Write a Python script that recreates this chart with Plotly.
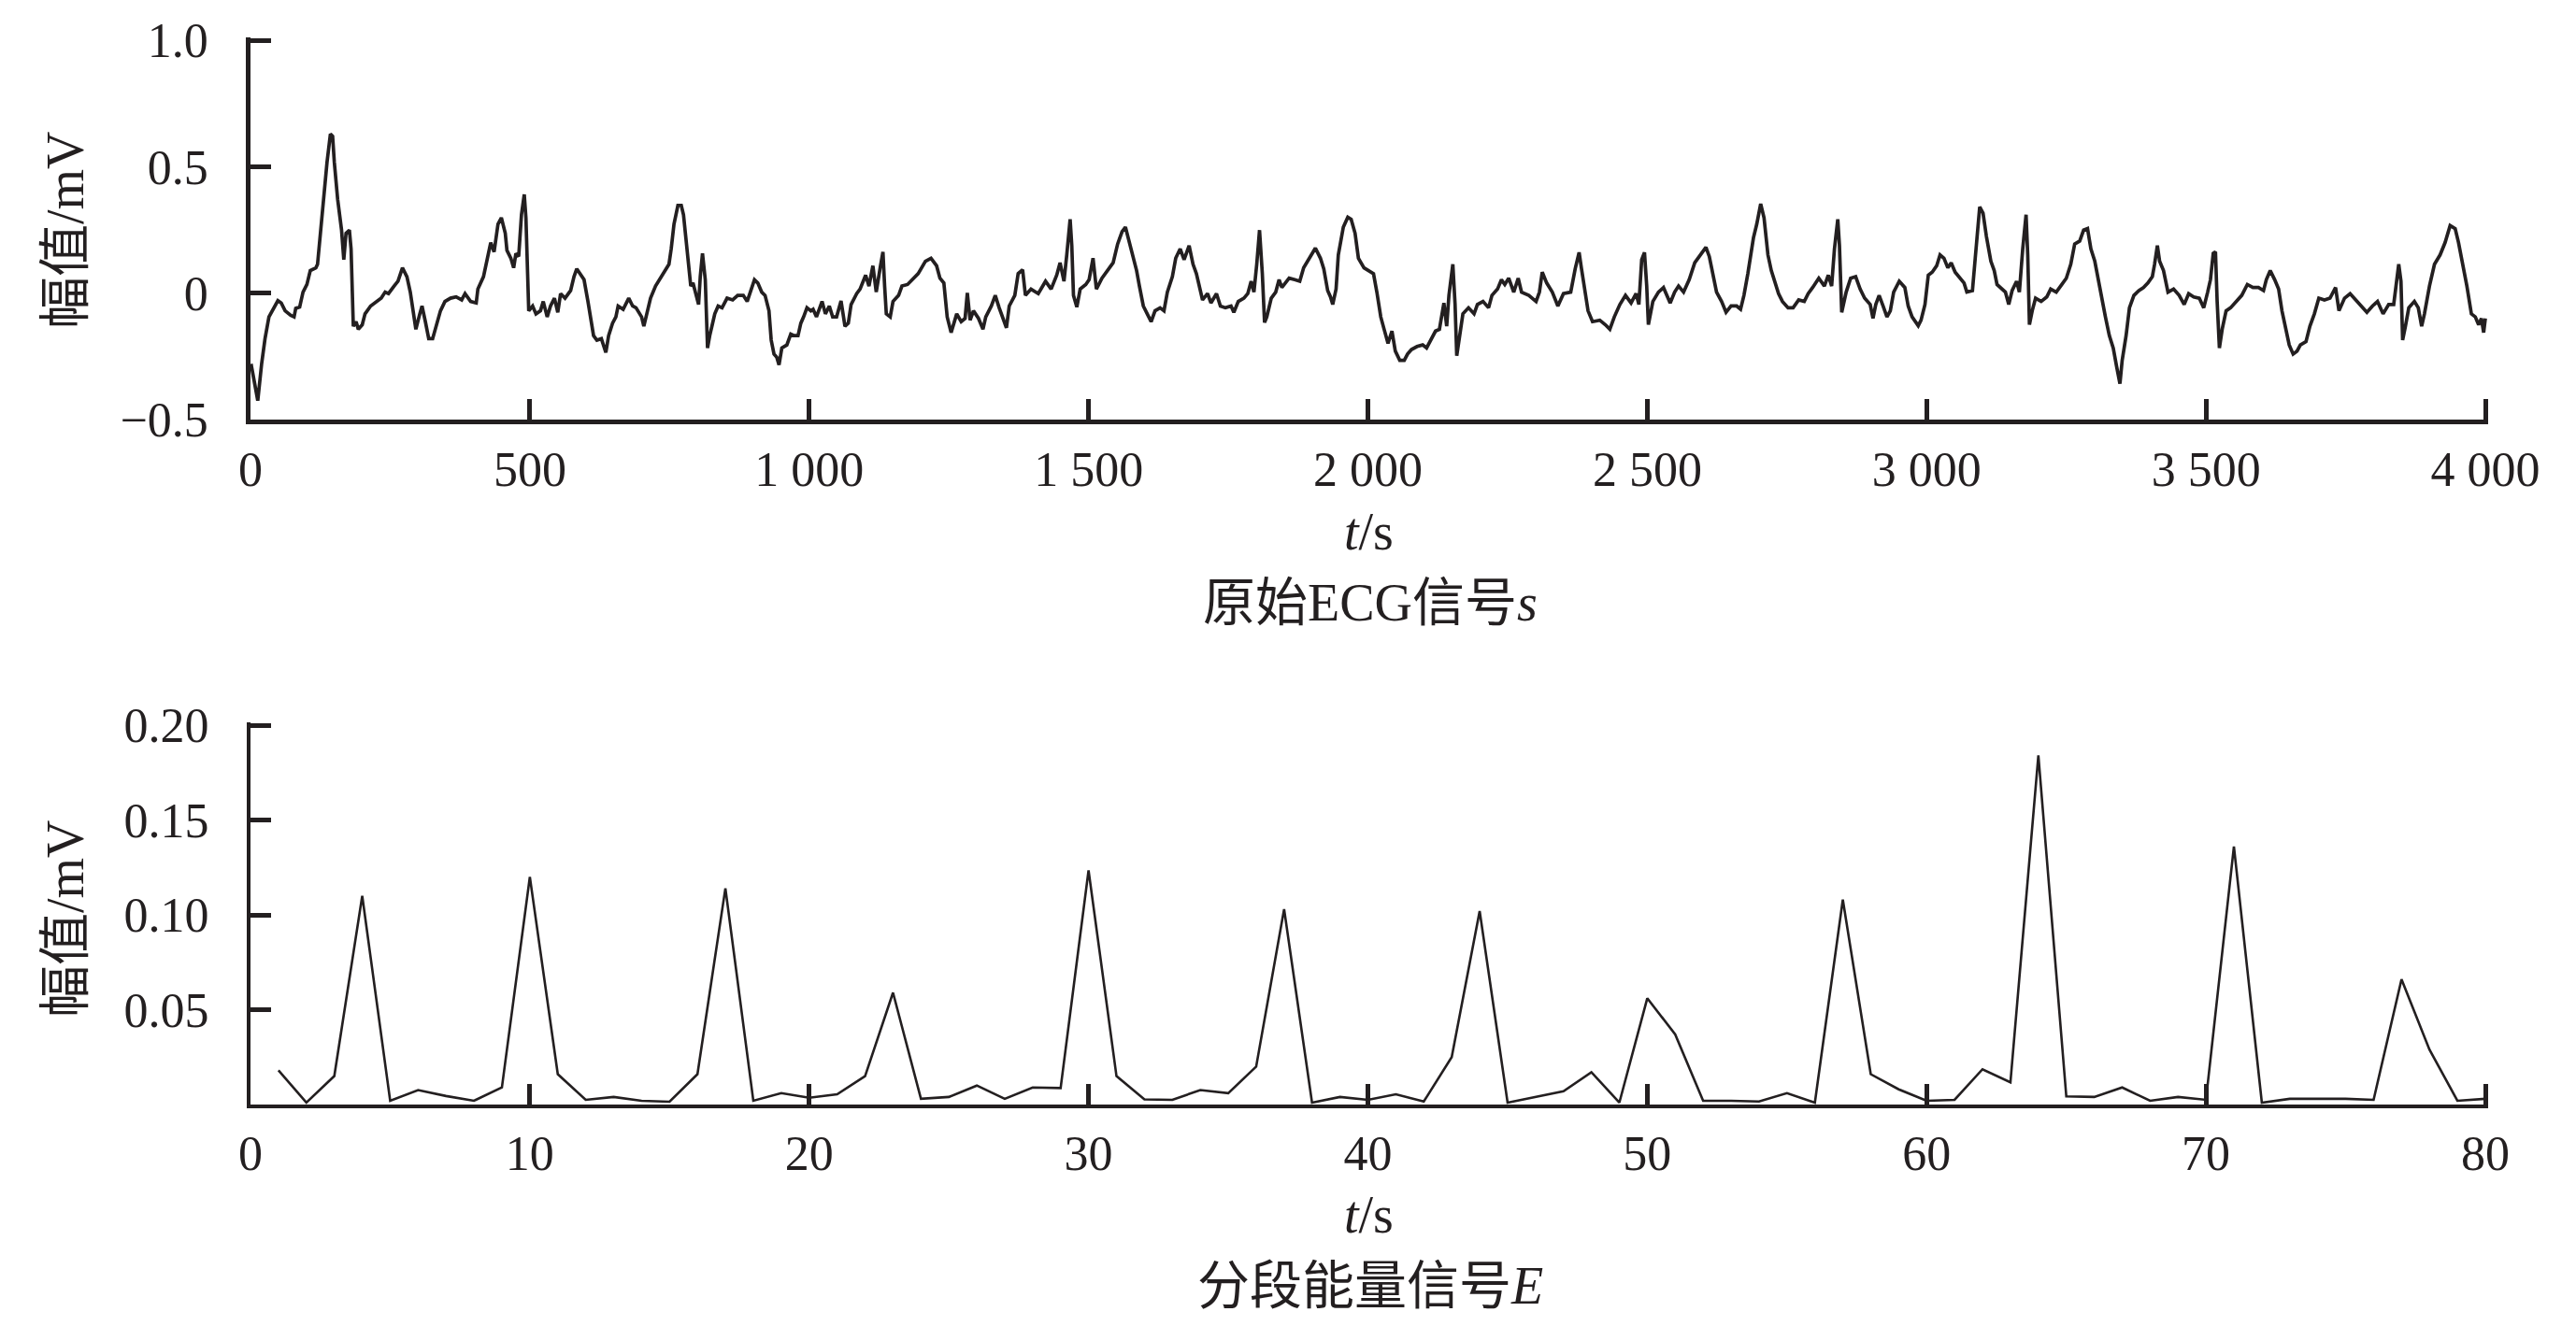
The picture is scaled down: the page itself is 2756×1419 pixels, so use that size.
import plotly.graph_objects as go

# ---------------- data: raw ECG signal s ----------------
ecg_t = [1, 13, 20, 26, 33, 39, 49, 55, 62, 72, 78, 81, 88, 94, 101, 107, 117, 120, 124, 130,
         137, 143, 147, 150, 156, 163, 167, 171, 177, 180, 184, 189, 193, 200, 205, 215, 225, 234, 241, 247,
         257, 264, 272, 280, 286, 291, 296, 303, 307, 313, 319, 326, 332, 340, 348, 358, 368, 378, 384, 394,
         404, 407, 417, 423, 430, 436, 443, 449, 456, 459, 466, 471, 475, 480, 485, 490, 493, 496, 498, 505,
         511, 519, 524, 531, 537, 544, 550, 555, 563, 573, 579, 584, 589, 597, 604, 609, 614, 620, 628, 636,
         641, 648, 654, 658, 667, 677, 684, 690, 700, 704, 710, 716, 725, 732, 742, 749, 753, 758, 765, 771,
         775, 779, 783, 788, 792, 798, 802, 805, 809, 814, 818, 822, 827, 831, 837, 844, 853, 863, 872, 882,
         889, 895, 902, 908, 915, 921, 928, 932, 937, 942, 946, 951, 960, 967, 973, 980, 985, 990, 996, 1003,
         1007, 1013, 1023, 1029, 1036, 1042, 1049, 1057, 1064, 1070, 1075, 1085, 1091, 1101, 1107, 1114, 1120, 1127, 1132, 1135,
         1138, 1145, 1150, 1160, 1166, 1176, 1186, 1195, 1208, 1218, 1228, 1234, 1241, 1247, 1254, 1264, 1272, 1279, 1283, 1288,
         1294, 1303, 1311, 1316, 1326, 1333, 1340, 1348, 1353, 1358, 1368, 1374, 1382, 1387, 1397, 1410, 1423, 1433, 1443, 1449,
         1456, 1461, 1467, 1470, 1473, 1479, 1485, 1495, 1501, 1508, 1514, 1524, 1534, 1544, 1552, 1560, 1566, 1573, 1579, 1586,
         1591, 1598, 1605, 1612, 1619, 1628, 1635, 1641, 1650, 1656, 1664, 1671, 1680, 1687, 1693, 1700, 1704, 1713, 1719, 1729,
         1736, 1745, 1755, 1760, 1768, 1778, 1785, 1791, 1796, 1801, 1806, 1811, 1815, 1819, 1827, 1835, 1841, 1846, 1859, 1869,
         1878, 1885, 1895, 1906, 1915, 1921, 1928, 1933, 1937, 1943, 1947, 1956, 1964, 1970, 1977, 1983, 1993, 2002,
         2010, 2016, 2023, 2029, 2036, 2043, 2049, 2057, 2065, 2071, 2078, 2088, 2098, 2105, 2114, 2121, 2128, 2132, 2136, 2141,
         2145, 2152, 2156, 2159, 2163, 2170, 2180, 2190, 2196, 2206, 2216, 2222, 2232, 2239, 2245, 2252, 2261, 2269, 2275, 2288,
         2301, 2307, 2312, 2320, 2330, 2340, 2350, 2363, 2371, 2378, 2382, 2389, 2394, 2402, 2415, 2425, 2433, 2441, 2451, 2461,
         2471, 2480, 2485, 2490, 2495, 2499, 2502, 2510, 2520, 2529, 2541, 2549, 2556, 2565, 2575, 2585, 2595, 2605, 2611, 2618,
         2624, 2633, 2641, 2650, 2660, 2667, 2673, 2680, 2690, 2696, 2703, 2709, 2716, 2722, 2729, 2735, 2742, 2752, 2761, 2771,
         2781, 2788, 2796, 2807, 2817, 2824, 2830, 2835, 2841, 2844, 2848, 2856, 2864, 2873, 2881, 2889, 2899, 2904, 2909, 2915,
         2922, 2929, 2935, 2941, 2951, 2961, 2967, 2974, 2985, 2990, 2997, 3003, 3010,
         3018, 3024, 3031, 3038, 3044, 3051, 3059, 3067, 3072, 3082, 3087, 3095, 3101, 3107, 3115, 3121, 3126, 3134, 3141, 3147,
         3153, 3161, 3166, 3172, 3178, 3181, 3184, 3189, 3195, 3205, 3215, 3222, 3232, 3242, 3250, 3258, 3265, 3274, 3281, 3288,
         3294, 3301, 3307, 3314, 3320, 3327, 3334, 3340, 3346, 3350, 3357, 3363, 3371, 3380, 3388, 3396, 3404, 3408, 3413, 3417,
         3424, 3432, 3442, 3452, 3461, 3469, 3478, 3488, 3496, 3503, 3508, 3513, 3517, 3520, 3524, 3529, 3536, 3544, 3554, 3564,
         3574, 3584, 3594, 3603, 3608, 3615, 3623, 3630, 3636, 3643, 3649, 3656, 3663, 3669, 3679, 3686, 3694, 3702, 3712, 3722,
         3732, 3738, 3748, 3758, 3768, 3778, 3788, 3798, 3807, 3817, 3827, 3836, 3840, 3845, 3849, 3852, 3857, 3863, 3873, 3880,
         3886, 3891, 3900, 3909, 3919, 3928, 3937, 3946, 3952, 3959, 3967, 3975, 3982, 3988, 3993, 3997, 4000]

ecg_v = [-0.28, -0.425, -0.278, -0.18, -0.094, -0.07, -0.03, -0.039, -0.07, -0.088, -0.094, -0.06, -0.055, 0.004, 0.034, 0.089, 0.10, 0.114, 0.212, 0.36,
         0.518, 0.629, 0.62, 0.518, 0.371, 0.249, 0.132, 0.237, 0.249, 0.175, -0.131, -0.113, -0.143, -0.125, -0.082, -0.051, -0.033, -0.02, 0.004, -0.002,
         0.028, 0.047, 0.10, 0.065, 0.004, -0.07, -0.143, -0.082, -0.051, -0.113, -0.18, -0.18, -0.131, -0.07, -0.033, -0.02, -0.015, -0.027, -0.002, -0.033,
         -0.039, 0.016, 0.065, 0.126, 0.20, 0.163, 0.273, 0.298, 0.237, 0.169, 0.138, 0.10, 0.157, 0.145, 0.31, 0.39, 0.298, 0.077, -0.07, -0.051,
         -0.082, -0.07, -0.033, -0.094, -0.051, -0.02, -0.076, -0.002, -0.02, 0.01, 0.065, 0.096, 0.077, 0.053, -0.033, -0.107, -0.168, -0.186, -0.18, -0.235,
         -0.168, -0.119, -0.094, -0.051, -0.064, -0.02, -0.051, -0.058, -0.094, -0.131, -0.082, -0.02, 0.028, 0.053, 0.089, 0.114, 0.175, 0.273, 0.347, 0.347,
         0.31, 0.224, 0.151, 0.028, 0.04, -0.02, -0.045, 0.065, 0.157, 0.053, -0.217, -0.168, -0.119, -0.082, -0.051, -0.058, -0.02, -0.027, -0.009, -0.009,
         -0.033, 0.004, 0.053, 0.04, 0.004, -0.009, -0.07, -0.186, -0.241, -0.254, -0.284, -0.217, -0.205, -0.162, -0.168, -0.168, -0.119, -0.094, -0.058, -0.07,
         -0.064, -0.094, -0.033, -0.082, -0.051, -0.094, -0.094, -0.031, -0.131, -0.119, -0.045, -0.002, 0.016, 0.071, 0.028, 0.108, 0.004, 0.10, 0.163, 0.028,
         -0.082, -0.094, -0.033, -0.009, 0.028, 0.034, 0.059, 0.077, 0.126, 0.138, 0.108, 0.059, 0.04, -0.094, -0.156, -0.082, -0.113, -0.10, 0.001, -0.107,
         -0.07, -0.10, -0.143, -0.094, -0.051, -0.009, -0.058, -0.107, -0.137, -0.051, -0.009, 0.077, 0.092, -0.009, 0.016, -0.002, 0.047, 0.016, 0.071, 0.12,
         0.047, 0.151, 0.292, 0.188, -0.009, -0.055, 0.016, 0.034, 0.053, 0.138, 0.016, 0.059, 0.089, 0.12, 0.194, 0.243, 0.261, 0.20, 0.151, 0.089,
         0.028, -0.051, -0.082, -0.113, -0.07, -0.058, -0.07, 0.004, 0.065, 0.138, 0.175, 0.132, 0.188, 0.114, 0.077, 0.004, -0.027, -0.002, -0.039, -0.002,
         -0.051, -0.058, -0.051, -0.076, -0.033, -0.02, -0.002, 0.047, 0.004, 0.114, 0.249, 0.077, -0.116, -0.094, -0.02, 0.004, 0.053, 0.022, 0.059, 0.053,
         0.047, 0.10, 0.138, 0.178, 0.138, 0.096, 0.01, -0.015, -0.045, 0.016, 0.151, 0.261, 0.30, 0.292, 0.237, 0.138, 0.10, 0.089,
         0.077, 0.004, -0.094, -0.143, -0.199, -0.15, -0.229, -0.266, -0.266, -0.241, -0.223, -0.211, -0.205, -0.217, -0.18, -0.15, -0.143, -0.094, -0.039, -0.131,
         -0.009, 0.114, -0.045, -0.248, -0.18, -0.082, -0.058, -0.082, -0.045, -0.033, -0.058, -0.009, 0.016, 0.053, 0.034, 0.059, 0.004, 0.059, 0.004, -0.009,
         -0.033, 0.004, 0.083, 0.04, 0.004, -0.051, -0.002, 0.004, 0.096, 0.161, 0.10, -0.009, -0.07, -0.113, -0.107, -0.125, -0.143, -0.094, -0.045, -0.009,
         -0.039, -0.002, -0.045, 0.132, 0.161, 0.028, -0.125, -0.033, 0.004, 0.022, -0.039, 0.004, 0.028, 0.004, 0.053, 0.12, 0.151, 0.181, 0.145, 0.077,
         0.004, -0.033, -0.076, -0.051, -0.051, -0.064, -0.009, 0.077, 0.218, 0.273, 0.353, 0.298, 0.151, 0.089, 0.04, -0.002, -0.033, -0.058, -0.058, -0.027,
         -0.033, -0.002, 0.022, 0.059, 0.028, 0.071, 0.028, 0.175, 0.292, 0.188, -0.076, 0.004, 0.059, 0.065, 0.016, -0.02, -0.045, -0.10, -0.045, -0.009,
         -0.051, -0.094, -0.07, 0.004, 0.047, 0.022, -0.051, -0.094, -0.129, -0.107, -0.045, 0.071, 0.083,
         0.108, 0.151, 0.138, 0.10, 0.12, 0.083, 0.059, 0.04, 0.004, 0.01, 0.138, 0.341, 0.316, 0.224, 0.126, 0.089, 0.034, 0.016, 0.004, -0.045,
         0.01, 0.047, 0.004, 0.175, 0.31, 0.151, -0.125, -0.07, -0.02, -0.033, -0.015, 0.016, 0.004, 0.034, 0.059, 0.114, 0.194, 0.206, 0.249, 0.255,
         0.175, 0.126, 0.053, -0.02, -0.094, -0.168, -0.217, -0.29, -0.358, -0.266, -0.168, -0.058, -0.009, 0.01, 0.022, 0.04, 0.065, 0.114, 0.188, 0.126,
         0.089, 0.004, 0.016, -0.009, -0.045, -0.002, -0.015, -0.02, -0.058, 0.004, 0.053, 0.157, 0.163, -0.033, -0.217, -0.143, -0.07, -0.058, -0.033, -0.009,
         0.034, 0.022, 0.022, 0.01, 0.053, 0.089, 0.053, 0.016, -0.07, -0.143, -0.205, -0.241, -0.229, -0.205, -0.192, -0.131, -0.082, -0.02, -0.027, -0.02,
         0.022, -0.07, -0.02, -0.002, -0.027, -0.051, -0.076, -0.051, -0.033, -0.082, -0.045, -0.045, 0.016, 0.114, 0.047, -0.186, -0.131, -0.058, -0.033, -0.058,
         -0.131, -0.082, 0.028, 0.114, 0.151, 0.20, 0.267, 0.255, 0.20, 0.126, 0.028, -0.082, -0.094, -0.125, -0.10, -0.156, -0.10]

# ---------------- data: segment energy signal E ----------------
energy_t = list(range(1, 81))
energy_v = [0.018, 0.001, 0.015, 0.110, 0.002, 0.0076, 0.0045, 0.002, 0.009, 0.120,
            0.016, 0.0025, 0.004, 0.002, 0.0015, 0.016, 0.114, 0.002, 0.006, 0.0036,
            0.0054, 0.015, 0.059, 0.003, 0.004, 0.010, 0.003, 0.009, 0.0087, 0.1235,
            0.015, 0.0027, 0.0025, 0.0076, 0.006, 0.020, 0.103, 0.001, 0.004, 0.0025,
            0.0054, 0.0016, 0.025, 0.102, 0.001, 0.004, 0.007, 0.017, 0.001, 0.056,
            0.037, 0.002, 0.002, 0.0016, 0.006, 0.001, 0.108, 0.016, 0.008, 0.002,
            0.0025, 0.0186, 0.0117, 0.184, 0.0043, 0.004, 0.009, 0.002, 0.004, 0.0025,
            0.136, 0.001, 0.003, 0.003, 0.003, 0.0025, 0.066, 0.029, 0.002, 0.003]

# ---------------- tick labels ----------------
top_x_ticks = [0, 500, 1000, 1500, 2000, 2500, 3000, 3500, 4000]
top_x_labels = ["0", "500", "1 000", "1 500", "2 000", "2 500", "3 000", "3 500", "4 000"]
top_y_ticks = [-0.5, 0, 0.5, 1.0]
top_y_labels = ["\u22120.5", "0", "0.5", "1.0"]
bot_x_ticks = [0, 10, 20, 30, 40, 50, 60, 70, 80]
bot_x_labels = ["0", "10", "20", "30", "40", "50", "60", "70", "80"]
bot_y_ticks = [0.05, 0.10, 0.15, 0.20]
bot_y_labels = ["0.05", "0.10", "0.15", "0.20"]

W, H = 2756, 1419
INK = "#231f20"
FONT = "Liberation Serif, Times New Roman, Noto Sans CJK SC, serif"

# plot-area geometry in pixels (value ends of each axis)
X0, X1 = 260, 2651
TOP_Y1, TOP_Y0 = 35, 441
BOT_Y1, BOT_Y0 = 768, 1174
PAD = 3  # small extension so the end ticks are still drawn


def px(x):
    return x / W


def py(y):
    return 1 - y / H


def ext(lo, hi, length_px):
    return hi + (hi - lo) * PAD / length_px


fig = go.Figure()
fig.add_trace(go.Scatter(x=ecg_t, y=ecg_v, mode="lines",
                         line=dict(color=INK, width=3.7), xaxis="x", yaxis="y",
                         showlegend=False, hoverinfo="skip"))
fig.add_trace(go.Scatter(x=energy_t, y=energy_v, mode="lines",
                         line=dict(color=INK, width=2.6), xaxis="x2", yaxis="y2",
                         showlegend=False, hoverinfo="skip"))

axis_common = dict(showgrid=False, zeroline=False, showline=True, linecolor=INK,
                   ticks="inside", tickcolor=INK, ticklen=22, automargin=False,
                   tickfont=dict(family=FONT, size=52, color=INK),
                   tickmode="array", fixedrange=True, layer="above traces")

fig.update_layout(
    width=W, height=H,
    margin=dict(l=0, r=0, t=0, b=0, autoexpand=False),
    paper_bgcolor="white", plot_bgcolor="white",
    xaxis=dict(**axis_common, domain=[px(X0), px(X1 + PAD)],
               range=[0, ext(0, 4000, X1 - X0)],
               tickvals=top_x_ticks, ticktext=top_x_labels, linewidth=4.5, tickwidth=5,
               anchor="y", ticklabelstandoff=4),
    yaxis=dict(**axis_common, domain=[py(TOP_Y0), py(TOP_Y1 - PAD)],
               range=[-0.5, ext(-0.5, 1.0, TOP_Y0 - TOP_Y1)],
               tickvals=top_y_ticks, ticktext=top_y_labels, linewidth=4.5, tickwidth=5,
               anchor="x", ticklabelstandoff=30),
    xaxis2=dict(**axis_common, domain=[px(X0), px(X1 + PAD)],
                range=[0, ext(0, 80, X1 - X0)],
                tickvals=bot_x_ticks, ticktext=bot_x_labels, linewidth=4, tickwidth=4.5,
                anchor="y2", ticklabelstandoff=4),
    yaxis2=dict(**axis_common, domain=[py(BOT_Y0), py(BOT_Y1 - PAD)],
                range=[0, ext(0, 0.2, BOT_Y0 - BOT_Y1)],
                tickvals=bot_y_ticks, ticktext=bot_y_labels, linewidth=4, tickwidth=4.5,
                anchor="x2", ticklabelstandoff=30),
)

ann_font = dict(family=FONT, size=56, color=INK)
annotations = [
    dict(text="幅值/mV", x=px(62), y=py(238), textangle=-90),
    dict(text="幅值/mV", x=px(62), y=py(975), textangle=-90),
    dict(text="<i>t</i>/s", x=px(1456), y=py(561)),
    dict(text="原始ECG信号<i>s</i>", x=px(1458), y=py(637)),
    dict(text="<i>t</i>/s", x=px(1456), y=py(1292)),
    dict(text="分段能量信号<i>E</i>", x=px(1458), y=py(1368)),
]
for a in annotations:
    fig.add_annotation(xref="paper", yref="paper", xanchor="center", yanchor="middle",
                       showarrow=False, font=ann_font, **a)

fig.write_html("out.html")
